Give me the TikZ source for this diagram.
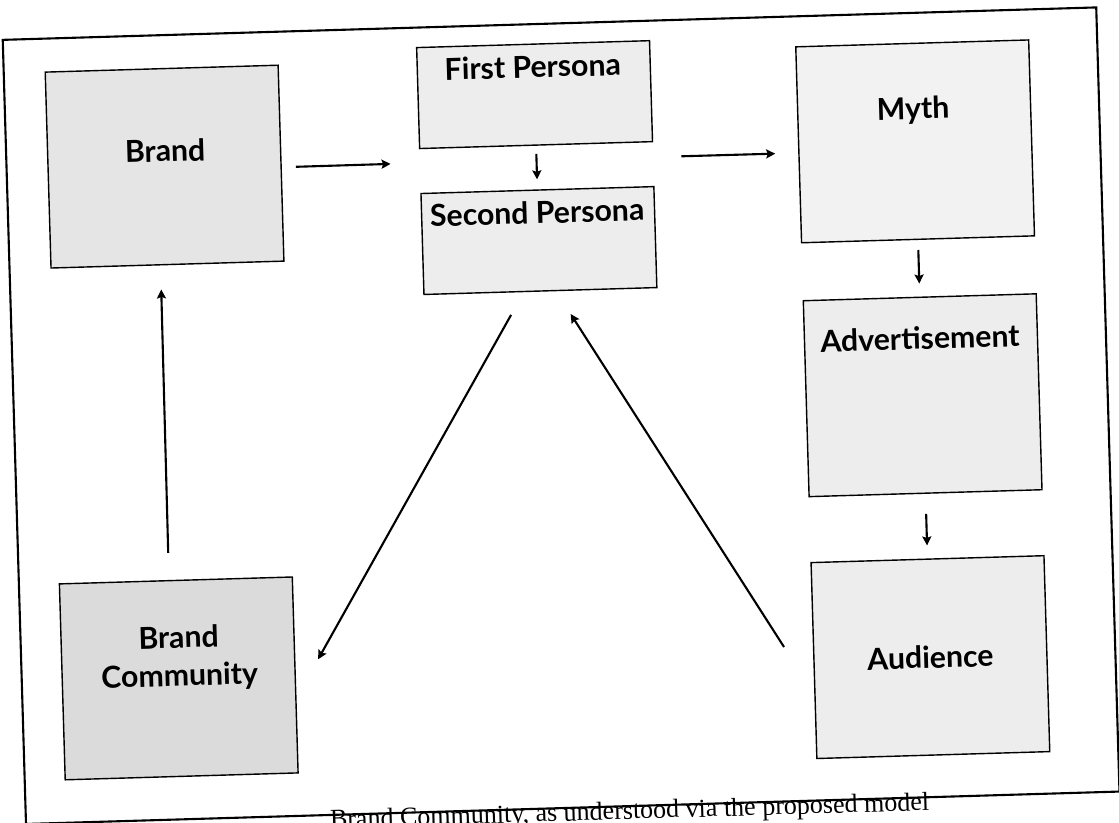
\documentclass[tikz,border=0pt]{standalone}
\usepackage{fontspec}
\setmainfont{Lato}
\newfontfamily\capfont{Liberation Serif}
\usepackage{tikz}
\usetikzlibrary{arrows.meta}

\begin{document}
\begin{tikzpicture}[x=0.1mm, y=-0.1mm,
    >={Stealth[length=0.9mm, width=0.9mm, inset=0.15mm]},
    box/.style={draw, line width=0.4pt, fill=black!7, minimum width=23.3mm, minimum height=19.6mm},
    pbox/.style={box, minimum height=10.1mm},
    boxtext/.style={font=\bfseries\fontsize{8.6}{10.8}\selectfont, align=center, inner sep=0pt},
    link/.style={->, line width=0.6pt}]
    \useasboundingbox (0,0) rectangle (1119,823);
    \clip (0,0) rectangle (1119,823);
    \fill[white] (0,0) rectangle (1119,823);

  \begin{scope}[rotate around={1.7:(560,412)}, every node/.append style={transform shape}]
    \draw[line width=0.6pt] (14,23.5) rectangle (1108,808);

    \node[box, fill=black!10] (brand) at (172,155) {};
    \node[pbox] (first) at (544,94) {};
    \node[pbox] (second) at (544,240) {};
    \node[box, fill=black!5] (myth) at (923,152) {};
    \node[box] (advert) at (923,406) {};
    \node[box] (audience) at (923,668) {};
    \node[box, fill=black!14] (community) at (171,667) {};

    \node[boxtext] (brandtxt) at (173,139) {Brand};
    \node[boxtext] (firsttxt) at (543,66) {First Persona};
    \node[boxtext] (secondtxt) at (543,212) {Second Persona};
    \node[boxtext] (mythtxt) at (922,121) {Myth};
    \node[boxtext] (adverttxt) at (922,349) {Advertisement};
    \node[boxtext] (audiencetxt) at (923,668) {Audience};
    \node[boxtext] (communitytxt) at (172,647) {Brand\\Community};

    \coordinate (pin) at (398,159);
    \coordinate (pout) at (689,160);
    \draw[link, shorten <=1.4mm] (brand.358) -- (pin);
    \draw[link, shorten >=2.3mm] (pout) -- (myth.184);
    \draw[link, shorten <=0.8mm, shorten >=1mm] (first) -- (second);
    \draw[link, shorten <=1mm, shorten >=1.3mm] (myth) -- (advert);
    \draw[link, shorten <=2mm, shorten >=1.3mm] (advert) -- (audience);
    \draw[link, shorten <=2.7mm, shorten >=2.4mm] (community.94) -- (brand.266);
    \draw[link, shorten <=2.6mm, shorten >=4.4mm] (second.252) -- (community.349);
    \draw[link, shorten <=5.6mm, shorten >=2.7mm] (audience.196) -- (second.287);

    \node[anchor=base east, inner sep=0pt, font=\capfont\fontsize{7.4}{9}\selectfont] (caption) at (918,821)
      {Brand Community, as understood via the proposed model};
  \end{scope}
\end{tikzpicture}
\end{document}
